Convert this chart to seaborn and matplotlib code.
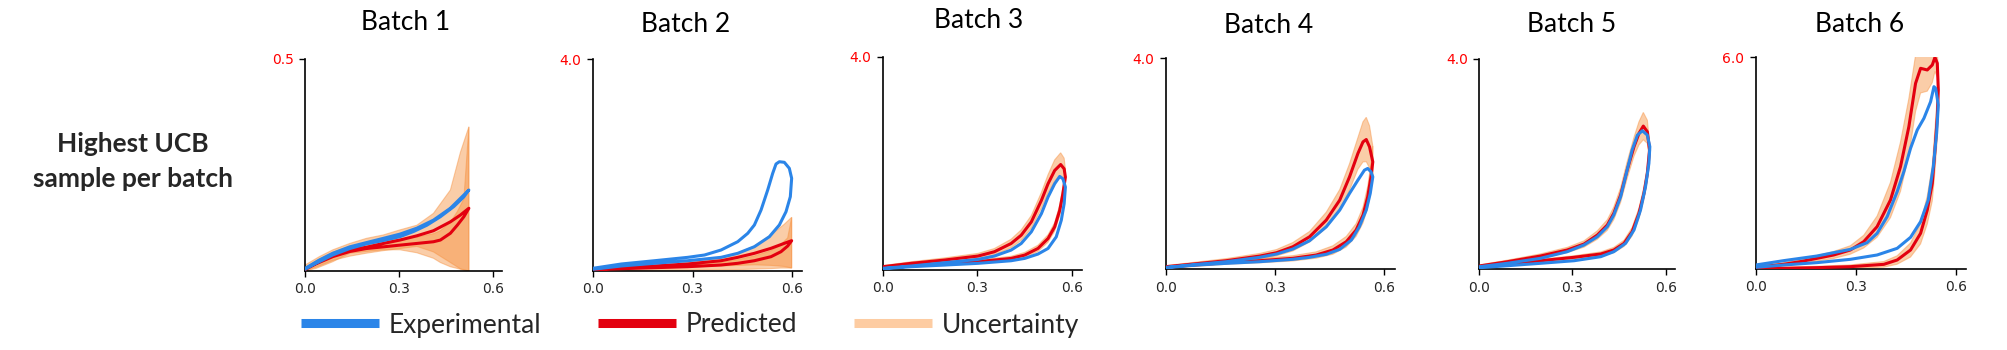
import numpy as np
import matplotlib
matplotlib.use("Agg")
import matplotlib.pyplot as plt
from matplotlib.lines import Line2D
import seaborn as sns

# ---------------------------------------------------------------------------
# Hysteresis loops per batch: experimental loop, predicted loop and the
# predicted uncertainty (offsets below / above the predicted mean).
# Each loop runs forward out to its turning point and back to the origin.
# ---------------------------------------------------------------------------
BATCHES = ["Batch 1", "Batch 2", "Batch 3", "Batch 4", "Batch 5", "Batch 6"]
Y_TOPS = [0.5, 4.0, 4.0, 4.0, 4.0, 6.0]
X_TICKS = [0.0, 0.3, 0.6]
X_TICK_LABELS = ["0.0", "0.3", "0.6"]

# Batch 1
B1_EXP_X = [0, 0.046, 0.089, 0.143, 0.196, 0.250, 0.303, 0.357, 0.410, 0.464, 0.523,
            0.507, 0.475, 0.432, 0.389, 0.346, 0.303, 0.250, 0.196, 0.143, 0.089, 0.035, 0]
B1_EXP_Y = [0.006, 0.026, 0.042, 0.057, 0.067, 0.077, 0.087, 0.101, 0.120, 0.148, 0.191,
            0.175, 0.152, 0.128, 0.108, 0.093, 0.081, 0.072, 0.064, 0.053, 0.038, 0.018, 0.004]
B1_PRED_X = [0, 0.046, 0.089, 0.143, 0.196, 0.250, 0.303, 0.357, 0.410, 0.464, 0.496, 0.523,
             0.507, 0.486, 0.464, 0.432, 0.410, 0.357, 0.303, 0.250, 0.196, 0.143, 0.089, 0.035, 0]
B1_PRED_Y = [0.004, 0.022, 0.038, 0.050, 0.056, 0.065, 0.073, 0.083, 0.095, 0.116, 0.132, 0.148,
             0.128, 0.108, 0.089, 0.073, 0.069, 0.065, 0.061, 0.057, 0.053, 0.046, 0.034, 0.017, 0.004]
B1_UNC_LO = [0.004, 0.010, 0.013, 0.015, 0.014, 0.017, 0.020, 0.025, 0.050, 0.096, 0.127, 0.148,
             0.126, 0.102, 0.079, 0.053, 0.039, 0.022, 0.011, 0.007, 0.007, 0.004, 0.012, 0.011, 0.004]
B1_UNC_UP = [0.010, 0.012, 0.012, 0.015, 0.021, 0.020, 0.024, 0.025, 0.041, 0.075, 0.148, 0.192,
             0.042, 0.032, 0.026, 0.022, 0.019, 0.015, 0.014, 0.015, 0.013, 0.012, 0.010, 0.007, 0.002]

# Batch 2
B2_EXP_X = [0, 0.086, 0.186, 0.286, 0.336, 0.386, 0.436, 0.466, 0.486, 0.506, 0.526, 0.541,
            0.551, 0.561, 0.576, 0.591, 0.598, 0.594, 0.581, 0.561, 0.531, 0.486, 0.436, 0.386,
            0.286, 0.186, 0.086, 0]
B2_EXP_Y = [0.045, 0.127, 0.189, 0.253, 0.297, 0.392, 0.549, 0.707, 0.865, 1.148, 1.527, 1.842,
            2.019, 2.062, 2.051, 1.937, 1.748, 1.400, 1.116, 0.865, 0.643, 0.454, 0.329, 0.253,
            0.189, 0.140, 0.089, 0.026]
B2_PRED_X = [0, 0.086, 0.186, 0.286, 0.386, 0.436, 0.486, 0.536, 0.576, 0.598,
             0.586, 0.566, 0.536, 0.486, 0.436, 0.386, 0.286, 0.186, 0.086, 0]
B2_PRED_Y = [0.019, 0.057, 0.089, 0.127, 0.189, 0.253, 0.329, 0.424, 0.518, 0.568,
             0.467, 0.360, 0.265, 0.189, 0.140, 0.108, 0.076, 0.057, 0.038, 0.019]
B2_UNC_LO = [0.019, 0.027, 0.039, 0.057, 0.099, 0.153, 0.219, 0.324, 0.438, 0.518,
             0.417, 0.310, 0.225, 0.159, 0.120, 0.088, 0.066, 0.047, 0.038, 0.019]
B2_UNC_UP = [0.021, 0.023, 0.021, 0.033, 0.051, 0.077, 0.141, 0.256, 0.362, 0.442,
             0.153, 0.140, 0.115, 0.091, 0.070, 0.052, 0.034, 0.023, 0.012, 0.001]

# Batch 3
B3_EXP_X = [0, 0.090, 0.196, 0.302, 0.354, 0.407, 0.439, 0.471, 0.503, 0.524, 0.545, 0.561,
            0.571, 0.579, 0.575, 0.566, 0.550, 0.524, 0.492, 0.450, 0.407, 0.302, 0.196, 0.090, 0]
B3_EXP_Y = [0.031, 0.075, 0.137, 0.199, 0.262, 0.374, 0.498, 0.717, 1.059, 1.371, 1.620, 1.757,
            1.713, 1.558, 1.246, 0.935, 0.623, 0.405, 0.299, 0.218, 0.174, 0.125, 0.093, 0.062, 0.025]
B3_PRED_X = [0, 0.090, 0.196, 0.302, 0.354, 0.407, 0.439, 0.471, 0.503, 0.524, 0.545, 0.564,
             0.575, 0.579, 0.571, 0.561, 0.545, 0.524, 0.492, 0.450, 0.407, 0.302, 0.196, 0.090, 0]
B3_PRED_Y = [0.062, 0.125, 0.187, 0.262, 0.343, 0.498, 0.654, 0.903, 1.308, 1.620, 1.869, 1.981,
             1.900, 1.745, 1.433, 1.121, 0.810, 0.592, 0.405, 0.280, 0.218, 0.156, 0.112, 0.075, 0.044]
B3_UNC = [0.02, 0.03, 0.04, 0.05, 0.06, 0.08, 0.10, 0.12, 0.15, 0.17, 0.20, 0.22, 0.20, 0.15,
          0.12, 0.10, 0.08, 0.07, 0.06, 0.05, 0.04, 0.03, 0.03, 0.02, 0.02]

# Batch 4
B4_EXP_X = [0, 0.076, 0.167, 0.259, 0.305, 0.350, 0.396, 0.442, 0.479, 0.506, 0.529, 0.547,
            0.556, 0.565, 0.570, 0.563, 0.552, 0.533, 0.511, 0.479, 0.442, 0.396, 0.350, 0.259,
            0.167, 0.076, 0]
B4_EXP_Y = [0.036, 0.087, 0.144, 0.227, 0.289, 0.384, 0.541, 0.805, 1.121, 1.437, 1.688, 1.877,
            1.909, 1.845, 1.750, 1.437, 1.121, 0.805, 0.554, 0.378, 0.284, 0.227, 0.189, 0.144,
            0.113, 0.076, 0.030]
B4_PRED_X = [0, 0.076, 0.167, 0.259, 0.305, 0.350, 0.396, 0.442, 0.479, 0.506, 0.529, 0.543,
             0.552, 0.561, 0.570, 0.565, 0.556, 0.543, 0.524, 0.497, 0.460, 0.414, 0.350, 0.259,
             0.167, 0.076, 0]
B4_PRED_Y = [0.049, 0.100, 0.163, 0.251, 0.314, 0.427, 0.616, 0.932, 1.310, 1.750, 2.193, 2.412,
             2.457, 2.318, 2.034, 1.750, 1.372, 1.026, 0.743, 0.522, 0.365, 0.270, 0.208, 0.163,
             0.125, 0.081, 0.036]
B4_UNC = [0.02, 0.03, 0.04, 0.05, 0.06, 0.08, 0.10, 0.15, 0.20, 0.25, 0.30, 0.38, 0.42, 0.40, 0.30,
          0.25, 0.20, 0.15, 0.12, 0.10, 0.08, 0.06, 0.05, 0.04, 0.03, 0.03, 0.02]

# Batch 5
B5_EXP_X = [0, 0.090, 0.197, 0.283, 0.337, 0.380, 0.412, 0.433, 0.455, 0.476, 0.492, 0.509,
            0.525, 0.541, 0.549, 0.546, 0.535, 0.519, 0.498, 0.471, 0.433, 0.391, 0.305, 0.197,
            0.090, 0]
B5_EXP_Y = [0.049, 0.114, 0.209, 0.335, 0.462, 0.620, 0.810, 1.032, 1.380, 1.888, 2.268, 2.553,
            2.635, 2.553, 2.331, 2.015, 1.570, 1.127, 0.747, 0.494, 0.335, 0.240, 0.163, 0.114,
            0.068, 0.030]
B5_PRED_X = [0, 0.090, 0.197, 0.283, 0.337, 0.380, 0.412, 0.433, 0.455, 0.476, 0.498, 0.514,
             0.528, 0.541, 0.548, 0.541, 0.530, 0.514, 0.492, 0.466, 0.433, 0.391, 0.305, 0.197,
             0.090, 0]
B5_PRED_Y = [0.063, 0.144, 0.253, 0.367, 0.481, 0.652, 0.842, 1.065, 1.413, 1.888, 2.331, 2.586,
             2.724, 2.616, 2.268, 1.825, 1.445, 1.065, 0.715, 0.494, 0.367, 0.291, 0.228, 0.163,
             0.101, 0.049]
B5_UNC = [0.02, 0.03, 0.04, 0.05, 0.06, 0.08, 0.10, 0.12, 0.14, 0.16, 0.18, 0.22, 0.26, 0.22, 0.15,
          0.14, 0.12, 0.10, 0.08, 0.06, 0.05, 0.04, 0.03, 0.03, 0.02, 0.02]

# Batch 6
B6_EXP_X = [0, 0.083, 0.183, 0.283, 0.333, 0.363, 0.393, 0.423, 0.443, 0.463, 0.483, 0.503,
            0.523, 0.533, 0.538, 0.546, 0.541, 0.531, 0.516, 0.493, 0.463, 0.423, 0.363, 0.283,
            0.183, 0.083, 0]
B6_EXP_Y = [0.113, 0.236, 0.368, 0.557, 0.746, 1.011, 1.484, 2.192, 2.759, 3.420, 3.940, 4.271,
            4.743, 5.168, 5.121, 4.649, 3.845, 2.901, 1.956, 1.342, 0.898, 0.586, 0.397, 0.274,
            0.180, 0.113, 0.047]
B6_PRED_X = [0, 0.083, 0.133, 0.183, 0.233, 0.283, 0.323, 0.363, 0.403, 0.433, 0.458, 0.478,
             0.493, 0.513, 0.528, 0.536, 0.543, 0.546, 0.543, 0.536, 0.528, 0.513, 0.493, 0.463,
             0.423, 0.383, 0.283, 0.183, 0.083, 0]
B6_PRED_Y = [0.047, 0.132, 0.208, 0.302, 0.397, 0.539, 0.775, 1.200, 1.956, 2.901, 4.035, 5.262,
             5.688, 5.641, 5.782, 6.000, 5.830, 5.074, 4.318, 3.373, 2.428, 1.672, 1.011, 0.539,
             0.255, 0.132, 0.066, 0.038, 0.019, 0.009]
B6_UNC = [0.03, 0.05, 0.06, 0.08, 0.10, 0.12, 0.18, 0.30, 0.50, 0.70, 0.80, 0.80, 0.70, 0.60, 0.50,
          0.40, 0.40, 0.50, 0.60, 0.60, 0.50, 0.40, 0.30, 0.20, 0.12, 0.08, 0.05, 0.04, 0.03, 0.02]

PANELS = [
    (B1_EXP_X, B1_EXP_Y, B1_PRED_X, B1_PRED_Y, B1_UNC_LO, B1_UNC_UP),
    (B2_EXP_X, B2_EXP_Y, B2_PRED_X, B2_PRED_Y, B2_UNC_LO, B2_UNC_UP),
    (B3_EXP_X, B3_EXP_Y, B3_PRED_X, B3_PRED_Y, B3_UNC, B3_UNC),
    (B4_EXP_X, B4_EXP_Y, B4_PRED_X, B4_PRED_Y, B4_UNC, B4_UNC),
    (B5_EXP_X, B5_EXP_Y, B5_PRED_X, B5_PRED_Y, B5_UNC, B5_UNC),
    (B6_EXP_X, B6_EXP_Y, B6_PRED_X, B6_PRED_Y, B6_UNC, B6_UNC),
]

# ---------------------------------------------------------------------------
# Styling
# ---------------------------------------------------------------------------
BLUE = "#2B85E8"
RED = "#E3000F"
ORANGE = "#F6903E"
PEACH = "#FDCCA2"

sns.set_theme(style="ticks")
plt.rcParams["font.family"] = ["DejaVu Sans"]
TITLE_FONT = "Lato"

W, H = 2008, 350
fig = plt.figure(figsize=(W / 100, H / 100), dpi=100)

# axes boxes in pixels: left, bottom (from figure bottom), width, height
AX_BOXES = [
    (305.0, 79.0, 197.4, 212.0),
    (592.7, 79.3, 209.6, 211.4),
    (882.7, 80.0, 198.8, 213.0),
    (1165.7, 80.7, 228.9, 211.3),
    (1479.3, 80.7, 195.7, 210.3),
    (1755.7, 81.0, 210.7, 211.7),
]
# title centre x and baseline y (from top), pixels
TITLE_POS = [(406, 30), (686, 31.5), (979, 28.5), (1269, 33), (1572, 32), (1860, 32)]


def fill_branch(ax, x, y, lo, up):
    x = np.asarray(x)
    y = np.asarray(y)
    px = np.concatenate([x, x[::-1]])
    py = np.concatenate([y + np.asarray(up), (y - np.asarray(lo))[::-1]])
    ax.fill(px, py, facecolor=ORANGE, edgecolor=ORANGE, alpha=0.45, lw=0.8, zorder=1)


for i, (ex, ey, px, py, lo, up) in enumerate(PANELS):
    l, b, w, h = AX_BOXES[i]
    ax = fig.add_axes([l / W, b / H, w / W, h / H])
    ax.set_facecolor("white")

    # uncertainty band, split at the turning point of the predicted loop
    k = int(np.argmax(px))
    fill_branch(ax, px[:k + 1], py[:k + 1], lo[:k + 1], up[:k + 1])
    fill_branch(ax, px[k:], py[k:], lo[k:], up[k:])

    sns.lineplot(x=np.asarray(px), y=np.asarray(py), sort=False, estimator=None,
                 color=RED, linewidth=2.2, ax=ax, legend=False, zorder=3)
    sns.lineplot(x=np.asarray(ex), y=np.asarray(ey), sort=False, estimator=None,
                 color=BLUE, linewidth=2.2, ax=ax, legend=False, zorder=4)

    ax.set_xlim(0, 0.63)
    ax.set_ylim(0, Y_TOPS[i])
    ax.set_xticks(X_TICKS)
    ax.set_xticklabels(X_TICK_LABELS, fontsize=10)
    ax.set_yticks([Y_TOPS[i]])
    ax.set_yticklabels([f"{Y_TOPS[i]:.1f}"], fontsize=10, color="red")
    ax.set_xlabel("")
    ax.set_ylabel("")
    sns.despine(ax=ax)
    for s in ("left", "bottom"):
        ax.spines[s].set_linewidth(1.2)
        ax.spines[s].set_color("black")
    ax.tick_params(axis="both", length=4.2, width=1.0, color="black", pad=4)

    tx, ty = TITLE_POS[i]
    fig.text(tx / W, 1 - ty / H, BATCHES[i], ha="center", va="baseline",
             fontsize=19, family=TITLE_FONT, color="black")

# row label
fig.text(133 / W, 1 - 152 / H, "Highest UCB", ha="center", va="baseline",
         fontsize=19, family=TITLE_FONT, fontweight="bold")
fig.text(133 / W, 1 - 187 / H, "sample per batch", ha="center", va="baseline",
         fontsize=19, family=TITLE_FONT, fontweight="bold")

handles = [
    Line2D([], [], color=BLUE, lw=6.5, solid_capstyle="butt"),
    Line2D([], [], color=RED, lw=6.5, solid_capstyle="butt"),
    Line2D([], [], color=PEACH, lw=6.5, solid_capstyle="butt"),
]
labels = ["Experimental", "Predicted", "Uncertainty"]
fig.legend(handles, labels, loc="center", bbox_to_anchor=(690 / W, 25 / H), ncol=3,
           frameon=False, prop={"family": TITLE_FONT, "size": 19},
           handlelength=2.95, handletextpad=0.38, columnspacing=2.15, borderpad=0)

fig.savefig("out.png", dpi=100)
